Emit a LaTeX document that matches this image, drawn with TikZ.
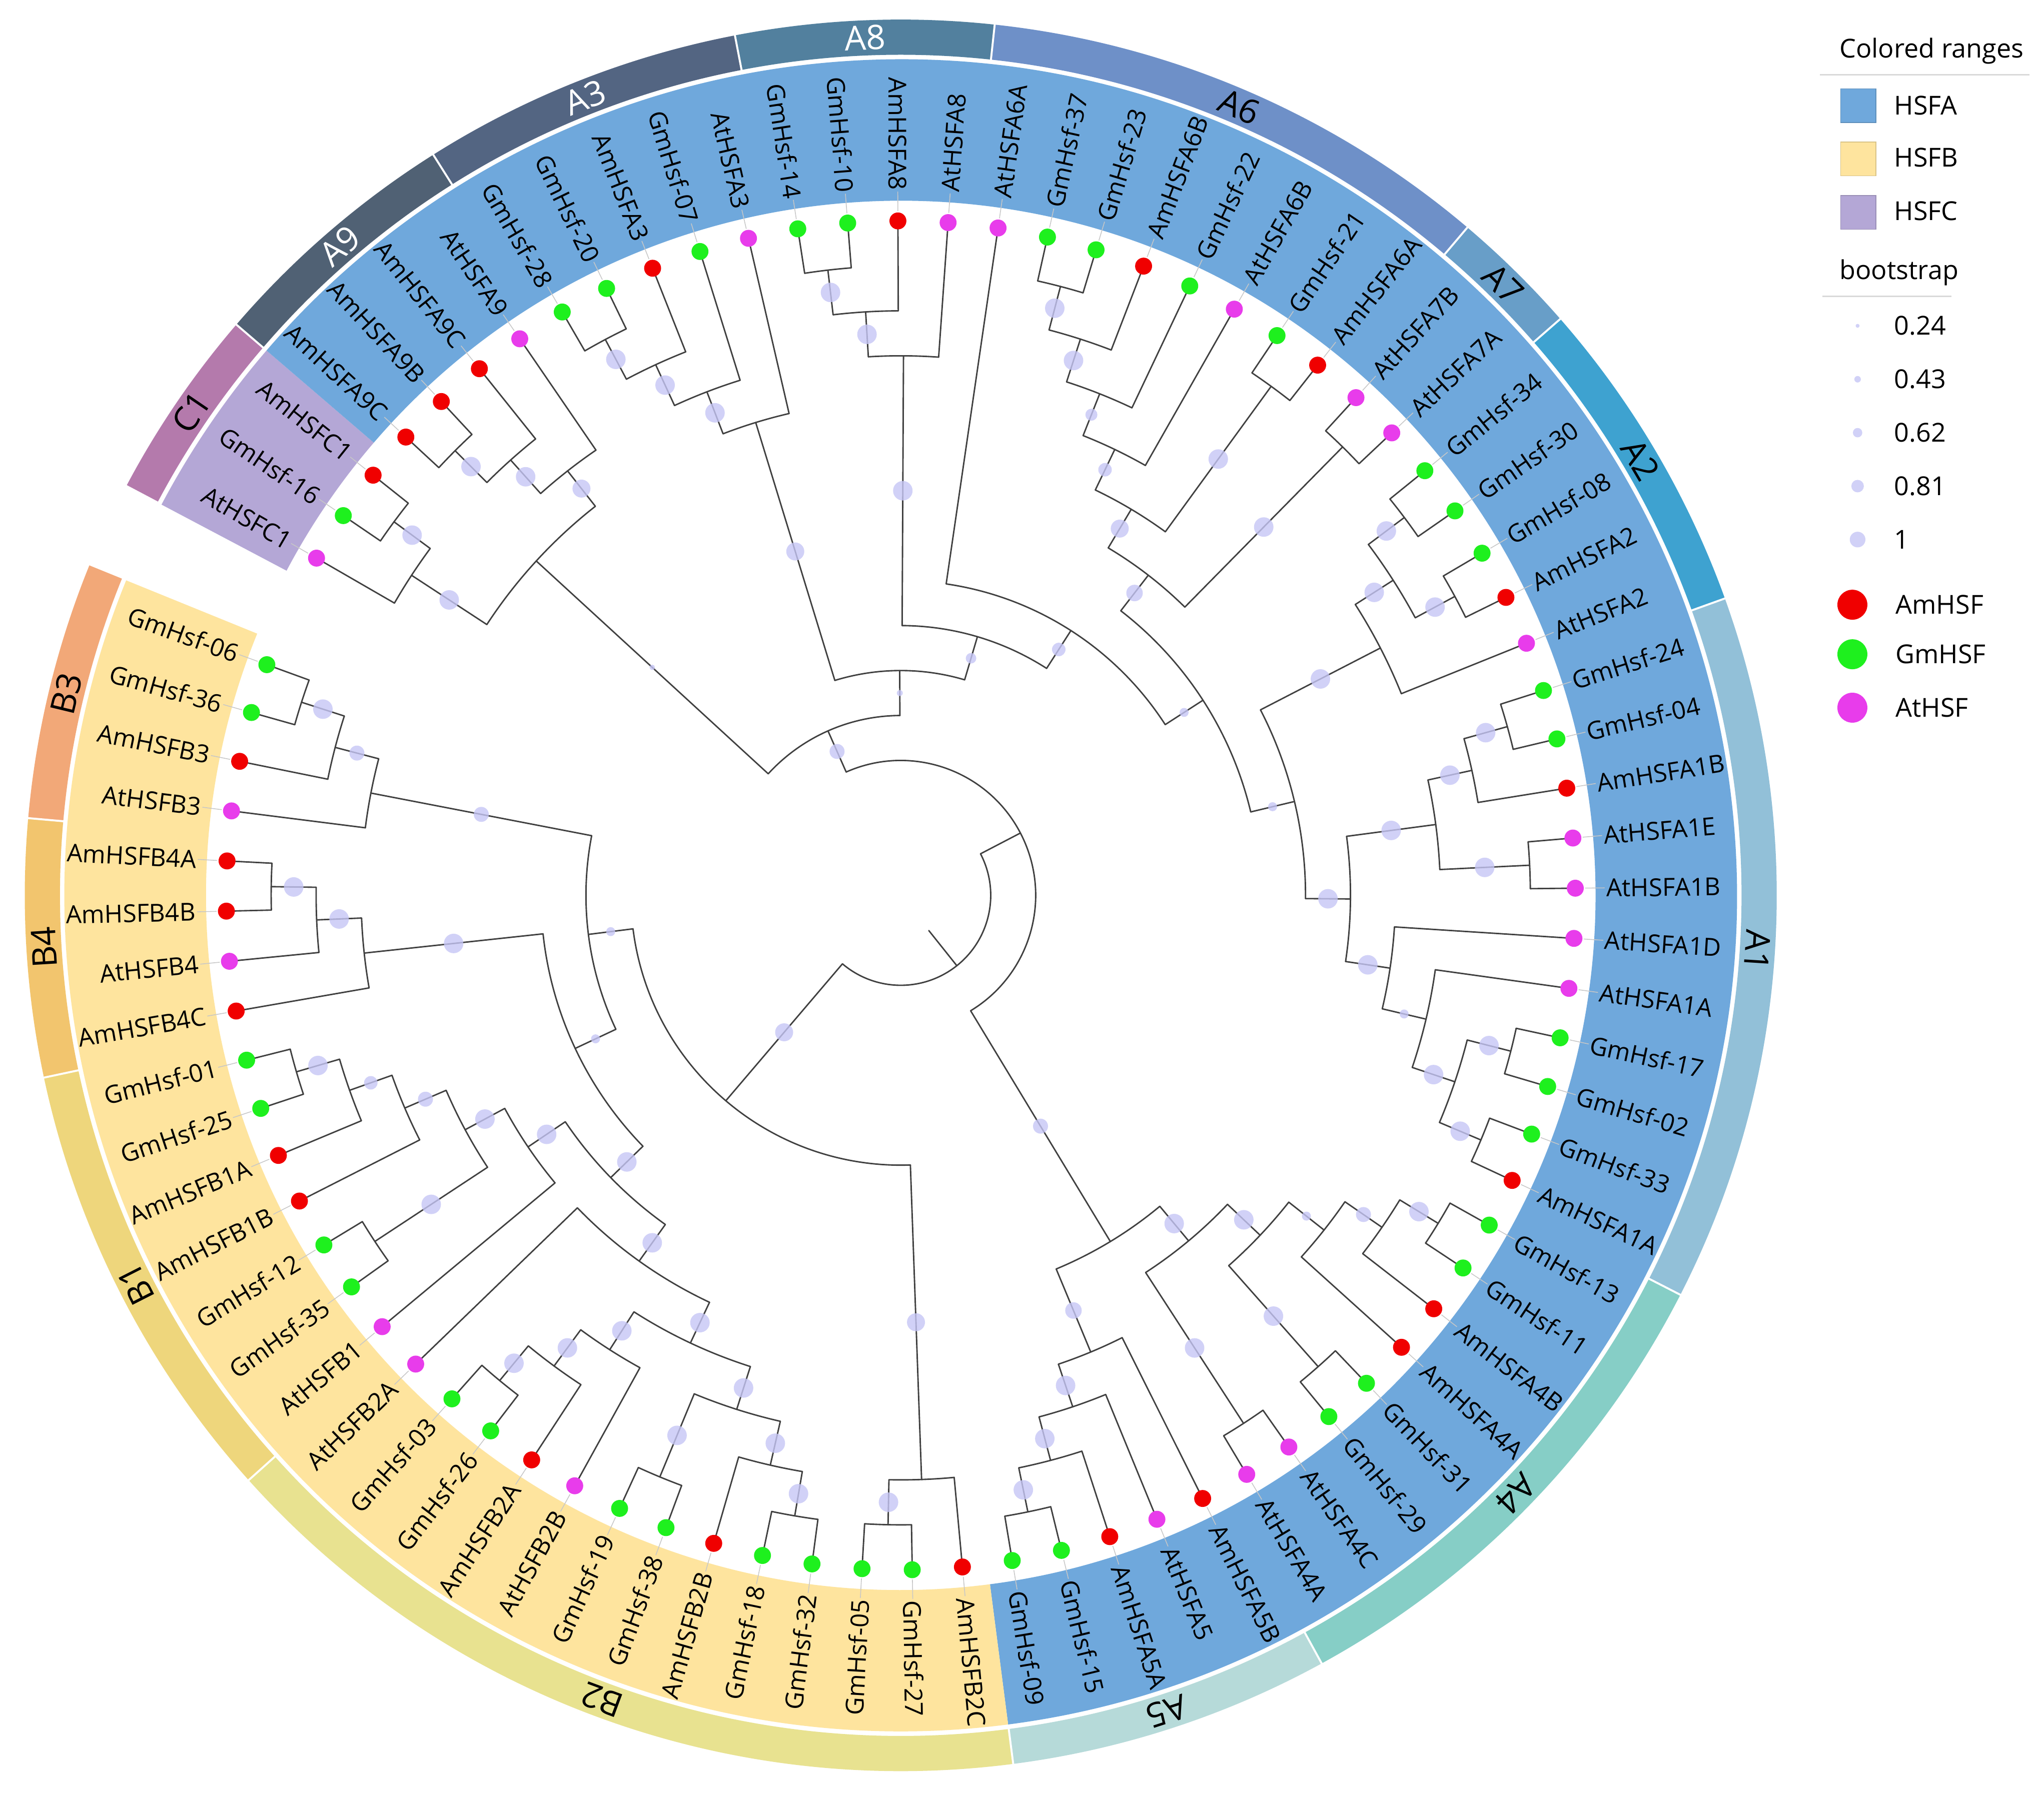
\documentclass[tikz,border=0pt]{standalone}
\usepackage{fontspec}
\setmainfont{Open Sans}
\pgfdeclarelayer{bands}
\pgfdeclarelayer{lines}
\pgfsetlayers{bands,lines,main}

\definecolor{hsfa}{RGB}{111,168,220}
\definecolor{hsfb}{RGB}{254,228,158}
\definecolor{hsfc}{RGB}{180,167,214}
\definecolor{amred}{RGB}{240,0,0}
\definecolor{gmgreen}{RGB}{30,240,30}
\definecolor{atmag}{RGB}{232,60,235}
\definecolor{bscol}{RGB}{198,198,246}
\definecolor{rC}{RGB}{180,122,172}
\definecolor{rAix}{RGB}{80,97,116}
\definecolor{rAiii}{RGB}{83,101,130}
\definecolor{rAviii}{RGB}{82,128,158}
\definecolor{rAvi}{RGB}{110,144,200}
\definecolor{rAvii}{RGB}{104,158,200}
\definecolor{rAii}{RGB}{62,162,208}
\definecolor{rAi}{RGB}{146,192,216}
\definecolor{rAiv}{RGB}{134,206,198}
\definecolor{rAv}{RGB}{182,218,217}
\definecolor{rBii}{RGB}{232,226,144}
\definecolor{rBi}{RGB}{238,214,124}
\definecolor{rBiv}{RGB}{242,197,110}
\definecolor{rBiii}{RGB}{242,168,120}

\tikzset{
  br/.style={draw=black!75,line width=1.1pt,line cap=round},
  bsc/.style={fill=bscol,fill opacity=0.8},
  lead/.style={draw=black!22,line width=0.6pt},
  leafdot/.style={circle,inner sep=0pt,minimum size=13pt,draw=none},
  lab/.style={inner sep=0pt,font=\fontsize{19pt}{22pt}\selectfont},
  rlab/.style={inner sep=0pt,font=\fontsize{26pt}{28pt}\selectfont},
  leg/.style={inner sep=0pt,anchor=west,font=\fontsize{20pt}{23pt}\selectfont},
}

\newcommand\LAng[1]{(150-(#1)*4.26829268)}
\newcommand\NAng[1]{\csname angX#1\endcsname}
% internal node: name, child angle a, child angle b, height, parent height, bootstrap radius
\newcommand\TNode[6]{%
  \pgfmathsetmacro\tAa{#2}%
  \pgfmathsetmacro\tAb{#3}%
  \pgfmathsetmacro\tAn{(\tAa+\tAb)/2}%
  \expandafter\global\expandafter\let\csname angX#1\endcsname\tAn
  \pgfmathsetmacro\tRa{517.5-34.5*#4}%
  \pgfmathsetmacro\tRp{517.5-34.5*#5}%
  \pgfmathsetmacro\tRm{(\tRa+\tRp)/2}%
  \pgfmathsetmacro\tBs{#6*1.15}%
  \coordinate (#1) at (\tAn:\tRa);
  \coordinate (#1-base) at (\tAn:\tRp);
  \begin{pgfonlayer}{lines}
  \draw[br] (\tAa:\tRa) arc[start angle=\tAa,end angle=\tAb,radius=\tRa pt];
  \draw[br] (#1-base) -- (#1);
  \end{pgfonlayer}
  \ifdim#6pt>0pt \fill[bsc] (\tAn:\tRm) circle[radius=\tBs pt];\fi
}
% leaf: index, label, colour, parent height
\newcommand\TLeaf[4]{%
  \pgfmathsetmacro\tTh{150-(#1)*4.26829268}%
  \pgfmathsetmacro\tRp{517.5-34.5*#4}%
  \pgfmathtruncatemacro\tRight{(\tTh>-90)*(\tTh<90)}%
  \pgfmathsetmacro\tRot{\tTh+180}%
  \coordinate (L#1-base) at (\tTh:\tRp);
  \coordinate (L#1) at (\tTh:517.5);
  \begin{pgfonlayer}{lines}\draw[br] (L#1-base) -- (L#1);\end{pgfonlayer}
  \draw[lead] (\tTh:525) -- (\tTh:540);
  \node[leafdot,fill=#3] (D#1) at (L#1) {};
  \ifnum\tRight=1
    \node[lab,anchor=west,rotate=\tTh] (T#1) at (\tTh:541) {#2};
  \else
    \node[lab,anchor=east,rotate=\tRot] (T#1) at (\tTh:541) {#2};
  \fi
}
\newcommand\TBand[3]{\fill[#3] (#1:533) arc[start angle=#1,end angle=#2,radius=533pt] -- (#2:641.5) arc[start angle=#2,end angle=#1,radius=641.5pt] -- cycle;}
\newcommand\TRing[6]{%
  \begin{pgfonlayer}{bands}
  \fill[#3] (#1:645) arc[start angle=#1,end angle=#2,radius=645pt] -- (#2:672) arc[start angle=#2,end angle=#1,radius=672pt] -- cycle;
  \draw[white,line width=1.5pt] (#1:644) -- (#1:673);
  \end{pgfonlayer}
  \pgfmathsetmacro\tMid{(#1+#2)/2}\pgfmathsetmacro\tRr{\tMid-90}%
  \node[rlab,text=#5,rotate=\tRr] (#6) at (\tMid:658.5) {#4};
}

\begin{document}
\begin{tikzpicture}[x=1pt,y=1pt]
\begin{pgfonlayer}{bands}
\fill[white] (-691,-691) rectangle (877,687);
\TBand{152.134}{139.329}{hsfc}
\TBand{139.329}{-82.622}{hsfa}
\TBand{-82.622}{-202.134}{hsfb}
\end{pgfonlayer}

% outer ring
\TRing{152.134}{139.329}{rC}{C1}{black}{rgC1}
\TRing{139.329}{122.256}{rAix}{A9}{white}{rgA9}
\TRing{122.256}{100.915}{rAiii}{A3}{white}{rgA3}
\TRing{100.915}{83.842}{rAviii}{A8}{white}{rgA8}
\TRing{83.842}{49.695}{rAvi}{A6}{black}{rgA6}
\TRing{49.695}{41.159}{rAvii}{A7}{black}{rgA7}
\TRing{41.159}{19.817}{rAii}{A2}{black}{rgA2}
\TRing{19.817}{-27.134}{rAi}{A1}{black}{rgA1}
\TRing{-27.134}{-61.281}{rAiv}{A4}{black}{rgA4}
\TRing{-61.281}{-82.622}{rAv}{A5}{black}{rgA5}
\TRing{-82.622}{-138.110}{rBii}{B2}{black}{rgB2}
\TRing{-138.110}{-167.988}{rBi}{B1}{black}{rgB1}
\TRing{-167.988}{-185.061}{rBiv}{B4}{black}{rgB4}
\TRing{-185.061}{-202.134}{rBiii}{B3}{black}{rgB3}

% ---- internal nodes (bottom-up) ----
% C1 and A9
\TNode{nCa}{\LAng{1}}{\LAng{2}}{1}{2}{6.5}
\TNode{nC}{\LAng{0}}{\NAng{nCa}}{2}{4}{6.5}
\TNode{nNa}{\LAng{3}}{\LAng{4}}{1}{2}{6.5}
\TNode{nNb}{\NAng{nNa}}{\LAng{5}}{2}{3}{6.5}
\TNode{nN}{\NAng{nNb}}{\LAng{6}}{3}{4}{6}
\TNode{nX}{\NAng{nC}}{\NAng{nN}}{4}{11}{1.8}
% A3
\TNode{nTa}{\LAng{7}}{\LAng{8}}{1}{2}{6.5}
\TNode{nTb}{\NAng{nTa}}{\LAng{9}}{2}{3}{6.5}
\TNode{nTc}{\NAng{nTb}}{\LAng{10}}{3}{4}{6.5}
\TNode{nT}{\NAng{nTc}}{\LAng{11}}{4}{10}{6}
% A8
\TNode{nEa}{\LAng{12}}{\LAng{13}}{1}{2}{6.5}
\TNode{nEb}{\NAng{nEa}}{\LAng{14}}{2}{3}{6.5}
\TNode{nE}{\NAng{nEb}}{\LAng{15}}{3}{9}{6.5}
% A6, A7
\TNode{nSa}{\LAng{17}}{\LAng{18}}{1}{2}{6.5}
\TNode{nSb}{\NAng{nSa}}{\LAng{19}}{2}{3}{6.5}
\TNode{nSc}{\NAng{nSb}}{\LAng{20}}{3}{4}{4}
\TNode{nSd}{\NAng{nSc}}{\LAng{21}}{4}{5}{4.5}
\TNode{nSe}{\LAng{22}}{\LAng{23}}{1}{5}{6.5}
\TNode{nS}{\NAng{nSd}}{\NAng{nSe}}{5}{6}{6}
\TNode{nV}{\LAng{24}}{\LAng{25}}{1}{6}{6.5}
\TNode{nSV}{\NAng{nS}}{\NAng{nV}}{6}{7}{5.5}
% A2
\TNode{nWa}{\LAng{26}}{\LAng{27}}{1}{2}{6.5}
\TNode{nWb}{\LAng{28}}{\LAng{29}}{1}{2}{6.5}
\TNode{nWc}{\NAng{nWa}}{\NAng{nWb}}{2}{3}{6.5}
\TNode{nW}{\NAng{nWc}}{\LAng{30}}{3}{6}{6.5}
% A1
\TNode{nOa}{\LAng{31}}{\LAng{32}}{1}{2}{6.5}
\TNode{nOb}{\NAng{nOa}}{\LAng{33}}{2}{3}{6.5}
\TNode{nOc}{\LAng{34}}{\LAng{35}}{1}{3}{6.5}
\TNode{nOd}{\NAng{nOb}}{\NAng{nOc}}{3}{5}{6.5}
\TNode{nOe}{\LAng{38}}{\LAng{39}}{1}{2}{6.5}
\TNode{nOf}{\LAng{40}}{\LAng{41}}{1}{2}{6.5}
\TNode{nOg}{\NAng{nOe}}{\NAng{nOf}}{2}{3}{6.5}
\TNode{nOh}{\LAng{37}}{\NAng{nOg}}{3}{4}{3}
\TNode{nOi}{\LAng{36}}{\NAng{nOh}}{4}{5}{6.5}
\TNode{nO}{\NAng{nOd}}{\NAng{nOi}}{5}{6}{6.5}
\TNode{nWO}{\NAng{nW}}{\NAng{nO}}{6}{7}{3}
\TNode{nMthree}{\NAng{nSV}}{\NAng{nWO}}{7}{8}{3}
\TNode{nMtwo}{\LAng{16}}{\NAng{nMthree}}{8}{9}{4.5}
\TNode{nMid}{\NAng{nE}}{\NAng{nMtwo}}{9}{10}{3.5}
\TNode{nNin}{\NAng{nT}}{\NAng{nMid}}{10}{11}{2}
\TNode{nTop}{\NAng{nX}}{\NAng{nNin}}{11}{12}{5}
% A4
\TNode{nFa}{\LAng{42}}{\LAng{43}}{1}{2}{6.5}
\TNode{nFb}{\NAng{nFa}}{\LAng{44}}{2}{3}{5}
\TNode{nFc}{\NAng{nFb}}{\LAng{45}}{3}{4}{3}
\TNode{nFd}{\LAng{46}}{\LAng{47}}{1}{4}{6.5}
\TNode{nFe}{\NAng{nFc}}{\NAng{nFd}}{4}{5}{6.5}
\TNode{nFf}{\LAng{48}}{\LAng{49}}{1}{5}{6.5}
\TNode{nF}{\NAng{nFe}}{\NAng{nFf}}{5}{6}{6.5}
% A5
\TNode{nGa}{\LAng{53}}{\LAng{54}}{1}{2}{6.5}
\TNode{nGb}{\LAng{52}}{\NAng{nGa}}{2}{3}{6.5}
\TNode{nGc}{\LAng{51}}{\NAng{nGb}}{3}{4}{6.5}
\TNode{nG}{\LAng{50}}{\NAng{nGc}}{4}{6}{5.5}
\TNode{nLow}{\NAng{nF}}{\NAng{nG}}{6}{12}{5}
\TNode{nBig}{\NAng{nTop}}{\NAng{nLow}}{12}{13}{0}
% B clade
\TNode{nPa}{\LAng{56}}{\LAng{57}}{1}{2}{6.5}
\TNode{nP}{\LAng{55}}{\NAng{nPa}}{2}{9}{6}
\TNode{nQa}{\LAng{58}}{\LAng{59}}{1}{2}{6.5}
\TNode{nQb}{\NAng{nQa}}{\LAng{60}}{2}{3}{6.5}
\TNode{nQc}{\LAng{61}}{\LAng{62}}{1}{3}{6.5}
\TNode{nQd}{\NAng{nQb}}{\NAng{nQc}}{3}{4}{6.5}
\TNode{nQe}{\LAng{65}}{\LAng{66}}{1}{2}{6.5}
\TNode{nQf}{\LAng{64}}{\NAng{nQe}}{2}{3}{6.5}
\TNode{nQg}{\LAng{63}}{\NAng{nQf}}{3}{4}{6.5}
\TNode{nQh}{\NAng{nQd}}{\NAng{nQg}}{4}{5}{6.5}
\TNode{nQ}{\NAng{nQh}}{\LAng{67}}{5}{6}{6.5}
\TNode{nRa}{\LAng{69}}{\LAng{70}}{1}{4}{6.5}
\TNode{nRb}{\LAng{73}}{\LAng{74}}{1}{2}{6.5}
\TNode{nRc}{\LAng{72}}{\NAng{nRb}}{2}{3}{4.5}
\TNode{nRd}{\LAng{71}}{\NAng{nRc}}{3}{4}{5}
\TNode{nRe}{\NAng{nRa}}{\NAng{nRd}}{4}{5}{6.5}
\TNode{nR}{\LAng{68}}{\NAng{nRe}}{5}{6}{6.5}
\TNode{nH}{\NAng{nQ}}{\NAng{nR}}{6}{7}{6.5}
\TNode{nUa}{\LAng{77}}{\LAng{78}}{1}{2}{6.5}
\TNode{nUb}{\LAng{76}}{\NAng{nUa}}{2}{3}{6.5}
\TNode{nU}{\LAng{75}}{\NAng{nUb}}{3}{7}{6.5}
\TNode{nK}{\NAng{nH}}{\NAng{nU}}{7}{8}{3}
\TNode{nYa}{\LAng{81}}{\LAng{82}}{1}{2}{6.5}
\TNode{nYb}{\LAng{80}}{\NAng{nYa}}{2}{3}{5}
\TNode{nY}{\LAng{79}}{\NAng{nYb}}{3}{8}{5}
\TNode{nBl}{\NAng{nK}}{\NAng{nY}}{8}{9}{3}
\TNode{nB}{\NAng{nP}}{\NAng{nBl}}{9}{13}{6}
% root
\TNode{nRoot}{\NAng{nBig}}{\NAng{nB}}{13}{14}{0}

% ---- leaves ----
\TLeaf{0}{AtHSFC1}{atmag}{2}
\TLeaf{1}{GmHsf-16}{gmgreen}{1}
\TLeaf{2}{AmHSFC1}{amred}{1}
\TLeaf{3}{AmHSFA9C}{amred}{1}
\TLeaf{4}{AmHSFA9B}{amred}{1}
\TLeaf{5}{AmHSFA9C}{amred}{2}
\TLeaf{6}{AtHSFA9}{atmag}{3}
\TLeaf{7}{GmHsf-28}{gmgreen}{1}
\TLeaf{8}{GmHsf-20}{gmgreen}{1}
\TLeaf{9}{AmHSFA3}{amred}{2}
\TLeaf{10}{GmHsf-07}{gmgreen}{3}
\TLeaf{11}{AtHSFA3}{atmag}{4}
\TLeaf{12}{GmHsf-14}{gmgreen}{1}
\TLeaf{13}{GmHsf-10}{gmgreen}{1}
\TLeaf{14}{AmHSFA8}{amred}{2}
\TLeaf{15}{AtHSFA8}{atmag}{3}
\TLeaf{16}{AtHSFA6A}{atmag}{8}
\TLeaf{17}{GmHsf-37}{gmgreen}{1}
\TLeaf{18}{GmHsf-23}{gmgreen}{1}
\TLeaf{19}{AmHSFA6B}{amred}{2}
\TLeaf{20}{GmHsf-22}{gmgreen}{3}
\TLeaf{21}{AtHSFA6B}{atmag}{4}
\TLeaf{22}{GmHsf-21}{gmgreen}{1}
\TLeaf{23}{AmHSFA6A}{amred}{1}
\TLeaf{24}{AtHSFA7B}{atmag}{1}
\TLeaf{25}{AtHSFA7A}{atmag}{1}
\TLeaf{26}{GmHsf-34}{gmgreen}{1}
\TLeaf{27}{GmHsf-30}{gmgreen}{1}
\TLeaf{28}{GmHsf-08}{gmgreen}{1}
\TLeaf{29}{AmHSFA2}{amred}{1}
\TLeaf{30}{AtHSFA2}{atmag}{3}
\TLeaf{31}{GmHsf-24}{gmgreen}{1}
\TLeaf{32}{GmHsf-04}{gmgreen}{1}
\TLeaf{33}{AmHSFA1B}{amred}{2}
\TLeaf{34}{AtHSFA1E}{atmag}{1}
\TLeaf{35}{AtHSFA1B}{atmag}{1}
\TLeaf{36}{AtHSFA1D}{atmag}{4}
\TLeaf{37}{AtHSFA1A}{atmag}{3}
\TLeaf{38}{GmHsf-17}{gmgreen}{1}
\TLeaf{39}{GmHsf-02}{gmgreen}{1}
\TLeaf{40}{GmHsf-33}{gmgreen}{1}
\TLeaf{41}{AmHSFA1A}{amred}{1}
\TLeaf{42}{GmHsf-13}{gmgreen}{1}
\TLeaf{43}{GmHsf-11}{gmgreen}{1}
\TLeaf{44}{AmHSFA4B}{amred}{2}
\TLeaf{45}{AmHSFA4A}{amred}{3}
\TLeaf{46}{GmHsf-31}{gmgreen}{1}
\TLeaf{47}{GmHsf-29}{gmgreen}{1}
\TLeaf{48}{AtHSFA4C}{atmag}{1}
\TLeaf{49}{AtHSFA4A}{atmag}{1}
\TLeaf{50}{AmHSFA5B}{amred}{4}
\TLeaf{51}{AtHSFA5}{atmag}{3}
\TLeaf{52}{AmHSFA5A}{amred}{2}
\TLeaf{53}{GmHsf-15}{gmgreen}{1}
\TLeaf{54}{GmHsf-09}{gmgreen}{1}
\TLeaf{55}{AmHSFB2C}{amred}{2}
\TLeaf{56}{GmHsf-27}{gmgreen}{1}
\TLeaf{57}{GmHsf-05}{gmgreen}{1}
\TLeaf{58}{GmHsf-32}{gmgreen}{1}
\TLeaf{59}{GmHsf-18}{gmgreen}{1}
\TLeaf{60}{AmHSFB2B}{amred}{2}
\TLeaf{61}{GmHsf-38}{gmgreen}{1}
\TLeaf{62}{GmHsf-19}{gmgreen}{1}
\TLeaf{63}{AtHSFB2B}{atmag}{3}
\TLeaf{64}{AmHSFB2A}{amred}{2}
\TLeaf{65}{GmHsf-26}{gmgreen}{1}
\TLeaf{66}{GmHsf-03}{gmgreen}{1}
\TLeaf{67}{AtHSFB2A}{atmag}{5}
\TLeaf{68}{AtHSFB1}{atmag}{5}
\TLeaf{69}{GmHsf-35}{gmgreen}{1}
\TLeaf{70}{GmHsf-12}{gmgreen}{1}
\TLeaf{71}{AmHSFB1B}{amred}{3}
\TLeaf{72}{AmHSFB1A}{amred}{2}
\TLeaf{73}{GmHsf-25}{gmgreen}{1}
\TLeaf{74}{GmHsf-01}{gmgreen}{1}
\TLeaf{75}{AmHSFB4C}{amred}{3}
\TLeaf{76}{AtHSFB4}{atmag}{2}
\TLeaf{77}{AmHSFB4B}{amred}{1}
\TLeaf{78}{AmHSFB4A}{amred}{1}
\TLeaf{79}{AtHSFB3}{atmag}{3}
\TLeaf{80}{AmHSFB3}{amred}{2}
\TLeaf{81}{GmHsf-36}{gmgreen}{1}
\TLeaf{82}{GmHsf-06}{gmgreen}{1}

% ---- legend (image coordinates) ----
\begin{scope}[shift={(-691,687)},y=-1pt]
\node[leg] (lgT1) at (1411,39) {Colored ranges};
\draw[black!15,line width=1.2pt] (1396,57.5) -- (1557,57.5);
\fill[hsfa,draw=hsfa!85!black,line width=0.5pt] (1412,68) rectangle (1439,94);
\node[leg] (lgA) at (1453,81) {HSFA};
\fill[hsfb,draw=hsfb!85!black,line width=0.5pt] (1412,109) rectangle (1439,135);
\node[leg] (lgB) at (1453,121) {HSFB};
\fill[hsfc,draw=hsfc!85!black,line width=0.5pt] (1412,150) rectangle (1439,176);
\node[leg] (lgC) at (1453,162) {HSFC};
\node[leg] (lgT2) at (1411,209) {bootstrap};
\draw[black!15,line width=1.2pt] (1398,227.5) -- (1497,227.5);
\fill[bsc] (1425,250) circle[radius=1.5pt];
\node[leg] (lgb1) at (1453,250) {0.24};
\fill[bsc] (1425,291) circle[radius=2.5pt];
\node[leg] (lgb2) at (1453,291) {0.43};
\fill[bsc] (1425,332) circle[radius=3.6pt];
\node[leg] (lgb3) at (1453,332) {0.62};
\fill[bsc] (1425,373) circle[radius=4.8pt];
\node[leg] (lgb4) at (1453,373) {0.81};
\fill[bsc] (1425,414) circle[radius=6pt];
\node[leg] (lgb5) at (1453,414) {1};
\fill[amred] (1421,464) circle[radius=11.5pt];
\node[leg] (lgAm) at (1454,464) {AmHSF};
\fill[gmgreen] (1421,502) circle[radius=11.5pt];
\node[leg] (lgGm) at (1454,502) {GmHSF};
\fill[atmag] (1421,543) circle[radius=11.5pt];
\node[leg] (lgAt) at (1454,543) {AtHSF};
\end{scope}

\pgfresetboundingbox
\useasboundingbox (-691,-691) rectangle (877,687);
\end{tikzpicture}
\end{document}
